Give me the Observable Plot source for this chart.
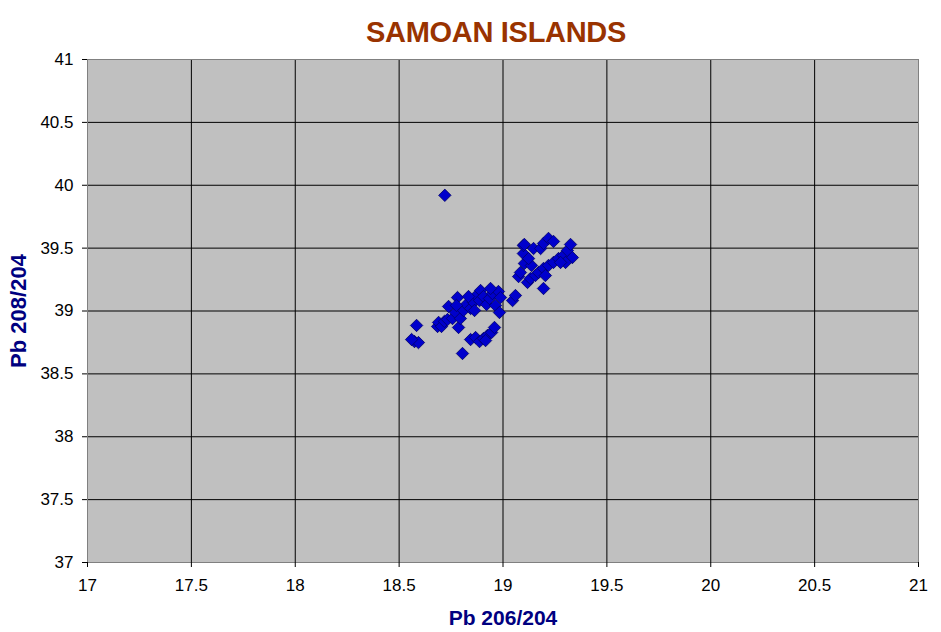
<!DOCTYPE html>
<html>
<head>
<meta charset="utf-8">
<script src="https://cdn.jsdelivr.net/npm/d3@7"></script>
<script src="https://cdn.jsdelivr.net/npm/@observablehq/plot@0.6"></script>
<style>
  html, body { margin: 0; padding: 0; background: #ffffff; }
  #wrap { position: relative; width: 941px; height: 632px; }
  #title { position: absolute; top: 16px; left: 0; width: 992px; text-align: center;
           font-family: "Liberation Sans", Arial, sans-serif; font-weight: bold; font-size: 29px;
           color: #993300; letter-spacing: -0.3px; }
  svg text { font-family: "Liberation Sans", Arial, sans-serif; }
  g[aria-label="x-axis label"] text { fill: #000080; font-weight: bold; font-size: 21px; }
  g[aria-label="y-axis label"] text { fill: #000080; font-weight: bold; font-size: 22px; }
</style>
</head>
<body>
<div id="wrap">
<div id="title">SAMOAN ISLANDS</div>
<div id="chart"></div>
</div>
<script>
const xTicks = [17, 17.5, 18, 18.5, 19, 19.5, 20, 20.5, 21];
const yTicks = [37, 37.5, 38, 38.5, 39, 39.5, 40, 40.5, 41];

const pb206 = [
  18.72,
  18.574, 18.584, 18.593, 18.560,
  18.685, 18.690, 18.704, 18.718, 18.733, 18.738, 18.757, 18.771, 18.781, 18.786,
  18.795, 18.805, 18.810, 18.824, 18.844, 18.858, 18.872, 18.887, 18.892, 18.906,
  18.921, 18.935, 18.949, 18.964, 18.978, 18.988, 18.983,
  18.844, 18.868, 18.887, 18.906, 18.925, 18.945, 18.959, 18.916,
  18.776, 18.834, 18.863, 18.940,
  19.046, 19.060, 19.075, 19.084, 19.103, 19.098, 19.098, 19.137, 19.118, 19.132,
  19.147, 19.156, 19.171, 19.181, 19.195, 19.195, 19.195, 19.219, 19.219, 19.243,
  19.243, 19.267, 19.291, 19.310, 19.325, 19.334, 19.301, 19.277, 19.123, 19.204, 19.103
];
const pb208 = [
  39.92,
  38.757, 38.885, 38.749, 38.773,
  38.877, 38.909, 38.877, 38.917, 38.932, 39.036, 38.940, 38.988, 39.107, 38.869,
  38.940, 38.662, 39.004, 39.052, 39.020, 39.068, 39.123, 39.083, 39.163, 39.115,
  39.052, 39.099, 39.139, 39.044, 39.155, 39.107, 38.988,
  38.773, 38.789, 38.757, 38.781, 38.805, 38.829, 38.869, 38.765,
  39.044, 39.115, 39.004, 39.179,
  39.083, 39.123, 39.274, 39.306, 39.378, 39.457, 39.521, 39.362, 39.227, 39.258,
  39.497, 39.282, 39.306, 39.497, 39.537, 39.338, 39.179, 39.577, 39.362, 39.553,
  39.386, 39.417, 39.441, 39.481, 39.529, 39.425, 39.386, 39.386, 39.417, 39.282, 39.529
];

const data = pb206.map((x, i) => ({x, y: pb208[i]}));

const chart = Plot.plot({
  width: 941,
  height: 632,
  marginTop: 59,
  marginLeft: 87,
  marginRight: 23,
  marginBottom: 70,
  style: { fontFamily: "Liberation Sans, Arial, sans-serif", fontSize: "17px", color: "#000", background: "#fff" },
  x: { domain: [17, 21] },
  y: { domain: [37, 41] },
  marks: [
    Plot.frame({ fill: "#c0c0c0", stroke: null }),
    Plot.gridX(xTicks, { stroke: "#000", strokeOpacity: 1, strokeWidth: 1 }),
    Plot.gridY(yTicks, { stroke: "#000", strokeOpacity: 1, strokeWidth: 1 }),
    Plot.frame({ stroke: "#808080", strokeWidth: 1 }),
    Plot.dot(data, { x: "x", y: "y", symbol: "diamond2", r: 5.6, fill: "#0000cc", stroke: "#000066", strokeWidth: 0.8 }),
    Plot.axisX(xTicks, { tickSize: 5, tickPadding: 11, tickFormat: d => String(d), fontSize: 17,
      label: "Pb 206/204", labelAnchor: "center", labelArrow: "none", labelOffset: 62 }),
    Plot.axisY(yTicks, { tickSize: 5, tickPadding: 9, tickFormat: d => String(d), fontSize: 17,
      label: "Pb 208/204", labelAnchor: "center", labelArrow: "none", labelOffset: 77 })
  ]
});
document.getElementById("chart").appendChild(chart);
</script>
</body>
</html>
